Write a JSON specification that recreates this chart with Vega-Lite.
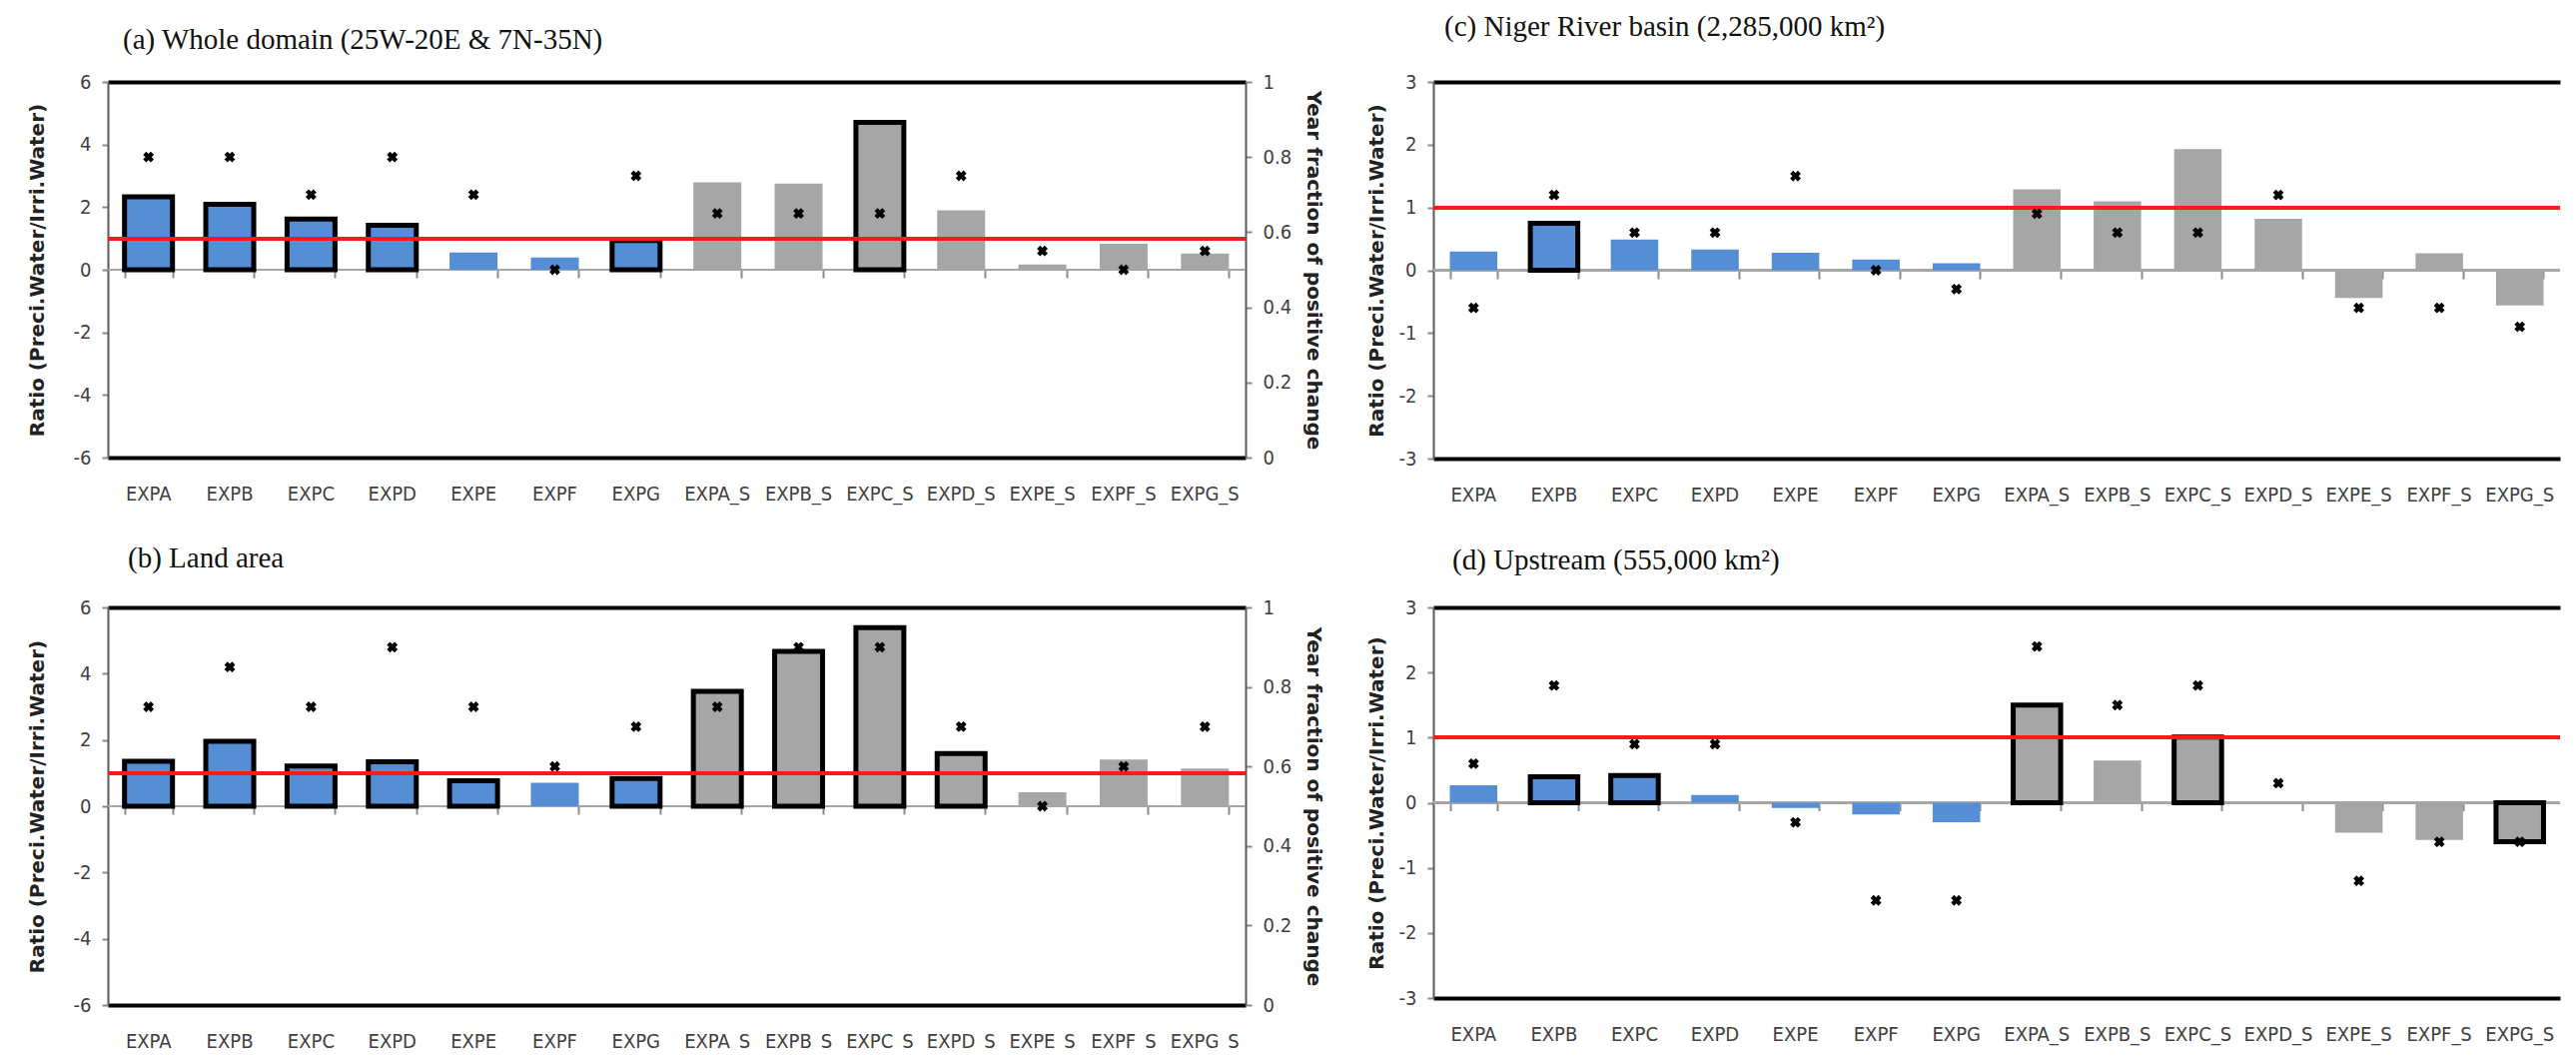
{
  "$schema": "https://vega.github.io/schema/vega-lite/v6.json",
  "background": "white",
  "padding": {"left": 27, "top": 13, "right": 2, "bottom": 0},
  "columns": 2,
  "align": "each",
  "spacing": {"row": 40, "column": 43},
  "config": {
    "view": {"stroke": null},
    "axis": {
      "labelFont": "Liberation Sans Narrow, DejaVu Sans Condensed, Liberation Sans",
      "labelFontSize": 20,
      "labelColor": "#404040",
      "titleFont": "DejaVu Sans",
      "titleFontSize": 20,
      "titleFontWeight": "bold",
      "titleColor": "#222222",
      "domainColor": "#5a5a5a",
      "domainWidth": 2,
      "tickColor": "#8a8a8a",
      "tickWidth": 2
    },
    "title": {"font": "Liberation Serif", "fontSize": 29, "fontWeight": "normal", "color": "#111111", "anchor": "start", "frame": "group"}
  },
  "datasets": {
    "a": [
      {"exp": "EXPA", "ratio": 2.33, "frac": 0.8, "sig": true, "set": "EXP"},
      {"exp": "EXPB", "ratio": 2.09, "frac": 0.8, "sig": true, "set": "EXP"},
      {"exp": "EXPC", "ratio": 1.62, "frac": 0.7, "sig": true, "set": "EXP"},
      {"exp": "EXPD", "ratio": 1.42, "frac": 0.8, "sig": true, "set": "EXP"},
      {"exp": "EXPE", "ratio": 0.55, "frac": 0.7, "sig": false, "set": "EXP"},
      {"exp": "EXPF", "ratio": 0.39, "frac": 0.5, "sig": false, "set": "EXP"},
      {"exp": "EXPG", "ratio": 0.93, "frac": 0.75, "sig": true, "set": "EXP"},
      {"exp": "EXPA_S", "ratio": 2.79, "frac": 0.65, "sig": false, "set": "EXP_S"},
      {"exp": "EXPB_S", "ratio": 2.75, "frac": 0.65, "sig": false, "set": "EXP_S"},
      {"exp": "EXPC_S", "ratio": 4.71, "frac": 0.65, "sig": true, "set": "EXP_S"},
      {"exp": "EXPD_S", "ratio": 1.9, "frac": 0.75, "sig": false, "set": "EXP_S"},
      {"exp": "EXPE_S", "ratio": 0.17, "frac": 0.55, "sig": false, "set": "EXP_S"},
      {"exp": "EXPF_S", "ratio": 0.83, "frac": 0.5, "sig": false, "set": "EXP_S"},
      {"exp": "EXPG_S", "ratio": 0.52, "frac": 0.55, "sig": false, "set": "EXP_S"}
    ],
    "b": [
      {"exp": "EXPA", "ratio": 1.36, "frac": 0.75, "sig": true, "set": "EXP"},
      {"exp": "EXPB", "ratio": 1.96, "frac": 0.85, "sig": true, "set": "EXP"},
      {"exp": "EXPC", "ratio": 1.21, "frac": 0.75, "sig": true, "set": "EXP"},
      {"exp": "EXPD", "ratio": 1.34, "frac": 0.9, "sig": true, "set": "EXP"},
      {"exp": "EXPE", "ratio": 0.77, "frac": 0.75, "sig": true, "set": "EXP"},
      {"exp": "EXPF", "ratio": 0.71, "frac": 0.6, "sig": false, "set": "EXP"},
      {"exp": "EXPG", "ratio": 0.84, "frac": 0.7, "sig": true, "set": "EXP"},
      {"exp": "EXPA_S", "ratio": 3.47, "frac": 0.75, "sig": true, "set": "EXP_S"},
      {"exp": "EXPB_S", "ratio": 4.67, "frac": 0.9, "sig": true, "set": "EXP_S"},
      {"exp": "EXPC_S", "ratio": 5.39, "frac": 0.9, "sig": true, "set": "EXP_S"},
      {"exp": "EXPD_S", "ratio": 1.59, "frac": 0.7, "sig": true, "set": "EXP_S"},
      {"exp": "EXPE_S", "ratio": 0.42, "frac": 0.5, "sig": false, "set": "EXP_S"},
      {"exp": "EXPF_S", "ratio": 1.41, "frac": 0.6, "sig": false, "set": "EXP_S"},
      {"exp": "EXPG_S", "ratio": 1.14, "frac": 0.7, "sig": false, "set": "EXP_S"}
    ],
    "c": [
      {"exp": "EXPA", "ratio": 0.3, "frac": 0.4, "sig": false, "set": "EXP"},
      {"exp": "EXPB", "ratio": 0.75, "frac": 0.7, "sig": true, "set": "EXP"},
      {"exp": "EXPC", "ratio": 0.49, "frac": 0.6, "sig": false, "set": "EXP"},
      {"exp": "EXPD", "ratio": 0.33, "frac": 0.6, "sig": false, "set": "EXP"},
      {"exp": "EXPE", "ratio": 0.28, "frac": 0.75, "sig": false, "set": "EXP"},
      {"exp": "EXPF", "ratio": 0.17, "frac": 0.5, "sig": false, "set": "EXP"},
      {"exp": "EXPG", "ratio": 0.11, "frac": 0.45, "sig": false, "set": "EXP"},
      {"exp": "EXPA_S", "ratio": 1.29, "frac": 0.65, "sig": false, "set": "EXP_S"},
      {"exp": "EXPB_S", "ratio": 1.1, "frac": 0.6, "sig": false, "set": "EXP_S"},
      {"exp": "EXPC_S", "ratio": 1.93, "frac": 0.6, "sig": false, "set": "EXP_S"},
      {"exp": "EXPD_S", "ratio": 0.82, "frac": 0.7, "sig": false, "set": "EXP_S"},
      {"exp": "EXPE_S", "ratio": -0.44, "frac": 0.4, "sig": false, "set": "EXP_S"},
      {"exp": "EXPF_S", "ratio": 0.27, "frac": 0.4, "sig": false, "set": "EXP_S"},
      {"exp": "EXPG_S", "ratio": -0.56, "frac": 0.35, "sig": false, "set": "EXP_S"}
    ],
    "d": [
      {"exp": "EXPA", "ratio": 0.27, "frac": 0.6, "sig": false, "set": "EXP"},
      {"exp": "EXPB", "ratio": 0.4, "frac": 0.8, "sig": true, "set": "EXP"},
      {"exp": "EXPC", "ratio": 0.42, "frac": 0.65, "sig": true, "set": "EXP"},
      {"exp": "EXPD", "ratio": 0.12, "frac": 0.65, "sig": false, "set": "EXP"},
      {"exp": "EXPE", "ratio": -0.08, "frac": 0.45, "sig": false, "set": "EXP"},
      {"exp": "EXPF", "ratio": -0.18, "frac": 0.25, "sig": false, "set": "EXP"},
      {"exp": "EXPG", "ratio": -0.3, "frac": 0.25, "sig": false, "set": "EXP"},
      {"exp": "EXPA_S", "ratio": 1.5, "frac": 0.9, "sig": true, "set": "EXP_S"},
      {"exp": "EXPB_S", "ratio": 0.65, "frac": 0.75, "sig": false, "set": "EXP_S"},
      {"exp": "EXPC_S", "ratio": 1.01, "frac": 0.8, "sig": true, "set": "EXP_S"},
      {"exp": "EXPD_S", "ratio": 0, "frac": 0.55, "sig": false, "set": "EXP_S"},
      {"exp": "EXPE_S", "ratio": -0.46, "frac": 0.3, "sig": false, "set": "EXP_S"},
      {"exp": "EXPF_S", "ratio": -0.57, "frac": 0.4, "sig": false, "set": "EXP_S"},
      {"exp": "EXPG_S", "ratio": -0.6, "frac": 0.4, "sig": true, "set": "EXP_S"}
    ]
  },
  "concat": [
    {
      "width": 1139, "height": 376,
      "title": {"text": "(a)  Whole domain (25W-20E & 7N-35N)", "offset": 17, "dx": 15},
      "data": {"name": "a"},
      "resolve": {"scale": {"y": "independent"}, "axis": {"x": "independent", "y": "independent"}},
      "layer": [
        {"layer": [
          {"mark": {"type": "rule", "color": "#a6a6a6", "strokeWidth": 2}, "encoding": {"y": {"datum": 0, "type": "quantitative"}}},
          {"mark": {"type": "bar"}, "encoding": {
            "x": {"field": "exp", "type": "nominal", "scale": {"domain": ["EXPA","EXPB","EXPC","EXPD","EXPE","EXPF","EXPG","EXPA_S","EXPB_S","EXPC_S","EXPD_S","EXPE_S","EXPF_S","EXPG_S"], "paddingInner": 0.41, "paddingOuter": 0.205}, "axis": {"orient": "bottom", "title": null, "labelAngle": 0, "ticks": false, "domain": false, "grid": false, "labelPadding": 26}},
            "y": {"field": "ratio", "type": "quantitative", "scale": {"domain": [-6, 6], "nice": false}, "axis": {"title": "Ratio (Preci.Water/Irri.Water)", "values": [-6,-4,-2,0,2,4,6], "labelExpr": "datum.value + ''", "tickSize": 6, "labelPadding": 11, "titlePadding": 26, "grid": true, "gridColor": "black", "gridWidth": 4, "gridOpacity": {"condition": {"test": "abs(datum.value) >= 6", "value": 1}, "value": 0}}},
            "color": {"field": "set", "type": "nominal", "scale": {"domain": ["EXP", "EXP_S"], "range": ["#558ED5", "#A6A6A6"]}, "legend": null},
            "stroke": {"condition": {"test": "datum.sig", "value": "black"}, "value": "transparent"},
            "strokeWidth": {"condition": {"test": "datum.sig", "value": 5}, "value": 0}
          }},
          {"mark": {"type": "rule", "color": "#ff1a1a", "strokeWidth": 3}, "encoding": {"y": {"datum": 1, "type": "quantitative"}}}
        ]},
        {"mark": {"type": "point", "shape": "cross", "angle": 45, "filled": true, "color": "black", "size": 120, "opacity": 1},
         "encoding": {
           "x": {"field": "exp", "type": "nominal", "axis": {"orient": "bottom", "offset": -188, "labels": false, "title": null, "domain": false, "grid": false, "ticks": true, "tickBand": "extent", "tickSize": 8}},
           "y": {"field": "frac", "type": "quantitative", "scale": {"domain": [0, 1], "nice": false}, "axis": {"orient": "right", "title": "Year fraction of positive change", "values": [0, 0.2, 0.4, 0.6, 0.8, 1], "format": "~g", "tickSize": 6, "labelPadding": 11, "titlePadding": 12, "grid": false}}
         }}
      ]
    },
    {
      "width": 1128, "height": 377,
      "title": {"text": "(c) Niger River basin (2,285,000 km²)", "offset": 30, "dx": 11},
      "data": {"name": "c"},
      "resolve": {"scale": {"y": "independent"}, "axis": {"x": "independent", "y": "independent"}},
      "layer": [
        {"layer": [
          {"mark": {"type": "rule", "color": "#a6a6a6", "strokeWidth": 2}, "encoding": {"y": {"datum": 0, "type": "quantitative"}}},
          {"mark": {"type": "bar"}, "encoding": {
            "x": {"field": "exp", "type": "nominal", "scale": {"domain": ["EXPA","EXPB","EXPC","EXPD","EXPE","EXPF","EXPG","EXPA_S","EXPB_S","EXPC_S","EXPD_S","EXPE_S","EXPF_S","EXPG_S"], "paddingInner": 0.41, "paddingOuter": 0.205}, "axis": {"orient": "bottom", "title": null, "labelAngle": 0, "ticks": false, "domain": false, "grid": false, "labelPadding": 26}},
            "y": {"field": "ratio", "type": "quantitative", "scale": {"domain": [-3, 3], "nice": false}, "axis": {"title": "Ratio (Preci.Water/Irri.Water)", "values": [-3,-2,-1,0,1,2,3], "labelExpr": "datum.value + ''", "tickSize": 6, "labelPadding": 11, "titlePadding": 12, "grid": true, "gridColor": "black", "gridWidth": 4, "gridOpacity": {"condition": {"test": "abs(datum.value) >= 3", "value": 1}, "value": 0}}},
            "color": {"field": "set", "type": "nominal", "scale": {"domain": ["EXP", "EXP_S"], "range": ["#558ED5", "#A6A6A6"]}, "legend": null},
            "stroke": {"condition": {"test": "datum.sig", "value": "black"}, "value": "transparent"},
            "strokeWidth": {"condition": {"test": "datum.sig", "value": 5}, "value": 0}
          }},
          {"mark": {"type": "rule", "color": "#ff1a1a", "strokeWidth": 3}, "encoding": {"y": {"datum": 1, "type": "quantitative"}}}
        ]},
        {"mark": {"type": "point", "shape": "cross", "angle": 45, "filled": true, "color": "black", "size": 120, "opacity": 1},
         "encoding": {
           "x": {"field": "exp", "type": "nominal", "axis": {"orient": "bottom", "offset": -188, "labels": false, "title": null, "domain": false, "grid": false, "ticks": true, "tickBand": "extent", "tickSize": 8}},
           "y": {"field": "frac", "type": "quantitative", "scale": {"domain": [0, 1], "nice": false}, "axis": null}
         }}
      ]
    },
    {
      "width": 1139, "height": 398,
      "title": {"text": "(b) Land area", "offset": 24, "dx": 20},
      "data": {"name": "b"},
      "resolve": {"scale": {"y": "independent"}, "axis": {"x": "independent", "y": "independent"}},
      "layer": [
        {"layer": [
          {"mark": {"type": "rule", "color": "#a6a6a6", "strokeWidth": 2}, "encoding": {"y": {"datum": 0, "type": "quantitative"}}},
          {"mark": {"type": "bar"}, "encoding": {
            "x": {"field": "exp", "type": "nominal", "scale": {"domain": ["EXPA","EXPB","EXPC","EXPD","EXPE","EXPF","EXPG","EXPA_S","EXPB_S","EXPC_S","EXPD_S","EXPE_S","EXPF_S","EXPG_S"], "paddingInner": 0.41, "paddingOuter": 0.205}, "axis": {"orient": "bottom", "title": null, "labelAngle": 0, "ticks": false, "domain": false, "grid": false, "labelPadding": 26}},
            "y": {"field": "ratio", "type": "quantitative", "scale": {"domain": [-6, 6], "nice": false}, "axis": {"title": "Ratio (Preci.Water/Irri.Water)", "values": [-6,-4,-2,0,2,4,6], "labelExpr": "datum.value + ''", "tickSize": 6, "labelPadding": 11, "titlePadding": 26, "grid": true, "gridColor": "black", "gridWidth": 4, "gridOpacity": {"condition": {"test": "abs(datum.value) >= 6", "value": 1}, "value": 0}}},
            "color": {"field": "set", "type": "nominal", "scale": {"domain": ["EXP", "EXP_S"], "range": ["#558ED5", "#A6A6A6"]}, "legend": null},
            "stroke": {"condition": {"test": "datum.sig", "value": "black"}, "value": "transparent"},
            "strokeWidth": {"condition": {"test": "datum.sig", "value": 5}, "value": 0}
          }},
          {"mark": {"type": "rule", "color": "#ff1a1a", "strokeWidth": 3}, "encoding": {"y": {"datum": 1, "type": "quantitative"}}}
        ]},
        {"mark": {"type": "point", "shape": "cross", "angle": 45, "filled": true, "color": "black", "size": 120, "opacity": 1},
         "encoding": {
           "x": {"field": "exp", "type": "nominal", "axis": {"orient": "bottom", "offset": -199, "labels": false, "title": null, "domain": false, "grid": false, "ticks": true, "tickBand": "extent", "tickSize": 8}},
           "y": {"field": "frac", "type": "quantitative", "scale": {"domain": [0, 1], "nice": false}, "axis": {"orient": "right", "title": "Year fraction of positive change", "values": [0, 0.2, 0.4, 0.6, 0.8, 1], "format": "~g", "tickSize": 6, "labelPadding": 11, "titlePadding": 12, "grid": false}}
         }}
      ]
    },
    {
      "width": 1128, "height": 391,
      "title": {"text": "(d) Upstream (555,000 km²)", "offset": 22, "dx": 19},
      "data": {"name": "d"},
      "resolve": {"scale": {"y": "independent"}, "axis": {"x": "independent", "y": "independent"}},
      "layer": [
        {"layer": [
          {"mark": {"type": "rule", "color": "#a6a6a6", "strokeWidth": 2}, "encoding": {"y": {"datum": 0, "type": "quantitative"}}},
          {"mark": {"type": "bar"}, "encoding": {
            "x": {"field": "exp", "type": "nominal", "scale": {"domain": ["EXPA","EXPB","EXPC","EXPD","EXPE","EXPF","EXPG","EXPA_S","EXPB_S","EXPC_S","EXPD_S","EXPE_S","EXPF_S","EXPG_S"], "paddingInner": 0.41, "paddingOuter": 0.205}, "axis": {"orient": "bottom", "title": null, "labelAngle": 0, "ticks": false, "domain": false, "grid": false, "labelPadding": 26}},
            "y": {"field": "ratio", "type": "quantitative", "scale": {"domain": [-3, 3], "nice": false}, "axis": {"title": "Ratio (Preci.Water/Irri.Water)", "values": [-3,-2,-1,0,1,2,3], "labelExpr": "datum.value + ''", "tickSize": 6, "labelPadding": 11, "titlePadding": 12, "grid": true, "gridColor": "black", "gridWidth": 4, "gridOpacity": {"condition": {"test": "abs(datum.value) >= 3", "value": 1}, "value": 0}}},
            "color": {"field": "set", "type": "nominal", "scale": {"domain": ["EXP", "EXP_S"], "range": ["#558ED5", "#A6A6A6"]}, "legend": null},
            "stroke": {"condition": {"test": "datum.sig", "value": "black"}, "value": "transparent"},
            "strokeWidth": {"condition": {"test": "datum.sig", "value": 5}, "value": 0}
          }},
          {"mark": {"type": "rule", "color": "#ff1a1a", "strokeWidth": 3}, "encoding": {"y": {"datum": 1, "type": "quantitative"}}}
        ]},
        {"mark": {"type": "point", "shape": "cross", "angle": 45, "filled": true, "color": "black", "size": 120, "opacity": 1},
         "encoding": {
           "x": {"field": "exp", "type": "nominal", "axis": {"orient": "bottom", "offset": -195.5, "labels": false, "title": null, "domain": false, "grid": false, "ticks": true, "tickBand": "extent", "tickSize": 8}},
           "y": {"field": "frac", "type": "quantitative", "scale": {"domain": [0, 1], "nice": false}, "axis": null}
         }}
      ]
    }
  ]
}
